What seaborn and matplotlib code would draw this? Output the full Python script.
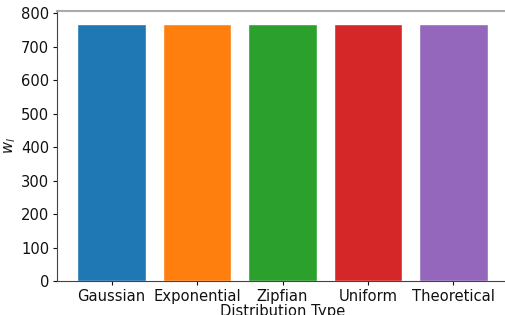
import numpy as np
import pandas as pd
import matplotlib
matplotlib.use("Agg")
import matplotlib.pyplot as plt
import seaborn as sns

# data
dist_types = ['Gaussian', 'Exponential', 'Zipfian', 'Uniform', 'Theoretical']
w_values = [768, 768, 768, 768, 768]
bar_colors = ['#1f77b4', '#ff7f0e', '#2ca02c', '#d62728', '#9467bd']

df = pd.DataFrame({'Distribution Type': dist_types, 'w': w_values})

sns.set_style('ticks')
plt.rcParams['font.family'] = ['DejaVu Sans']

fig = plt.figure(figsize=(5.06, 3.15), dpi=100)
ax = fig.add_axes([57/506, 34/315, 451/506, 270/315])

sns.barplot(data=df, x='Distribution Type', y='w', hue='Distribution Type',
            palette=bar_colors, saturation=1, width=0.8, legend=False, ax=ax)

ax.set_xlim(-0.64, 4.64)
ax.set_ylim(0, 806.4)
ax.set_yticks(range(0, 801, 100))
ax.set_ylabel('$w_l$', fontsize=10.6, labelpad=2, color='#111111')
ax.set_xlabel('Distribution Type', fontsize=10.6, labelpad=0, color='#111111')
ax.tick_params(labelsize=10.6, colors='#111111', length=3, pad=2.5)

for s in ['left', 'bottom']:
    ax.spines[s].set_color('#444444')
ax.spines['top'].set_color('#aaaaaa')
ax.spines['top'].set_linewidth(1.5)
ax.spines['right'].set_visible(False)

fig.savefig('out.png', dpi=100)
